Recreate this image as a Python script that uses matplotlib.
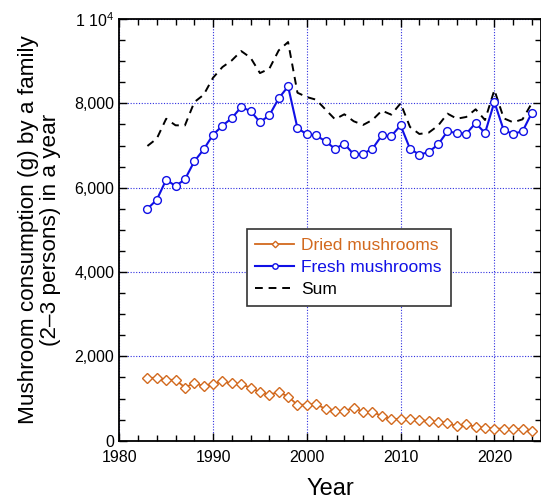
import matplotlib
matplotlib.use("Agg")
import matplotlib.pyplot as plt
from matplotlib.ticker import MultipleLocator, FuncFormatter

plt.rcParams["font.family"] = ["Liberation Sans", "DejaVu Sans"]
plt.rcParams["mathtext.fontset"] = "custom"
plt.rcParams["mathtext.rm"] = "Liberation Sans"

years = list(range(1983, 2025))

# household consumption, g per year
dried = [1492, 1492, 1445, 1445, 1262, 1366, 1294, 1350, 1405, 1358,
         1334, 1262, 1151, 1096, 1151, 1048, 850, 857, 865, 754,
         699, 699, 786, 683, 683, 588, 508, 524, 516, 492,
         461, 445, 421, 341, 397, 326, 310, 286, 286, 270,
         286, 230]
fresh = [5500, 5715, 6190, 6040, 6198, 6625, 6909, 7257, 7470, 7652,
         7913, 7818, 7557, 7715, 8119, 8403, 7415, 7265, 7241, 7099,
         6925, 7043, 6790, 6806, 6925, 7241, 7225, 7478, 6925, 6783,
         6846, 7028, 7336, 7296, 7281, 7534, 7296, 8032, 7360, 7281,
         7336, 7779]
total = [6990, 7165, 7636, 7480, 7478, 8030, 8205, 8609, 8862, 9020,
         9241, 9083, 8719, 8822, 9257, 9455, 8253, 8150, 8087, 7853,
         7624, 7742, 7576, 7489, 7608, 7829, 7733, 8002, 7441, 7275,
         7307, 7473, 7757, 7637, 7678, 7860, 7606, 8318, 7646, 7551,
         7622, 8009]

ORANGE = "#D2691E"
BLUE = "#1010E6"

fig = plt.figure(figsize=(5.41, 4.99), dpi=100)
ax = fig.add_axes([0.2205, 0.1168, 0.780, 0.845])

ax.plot(years, dried, color=ORANGE, lw=1.3, marker="D", ms=4.7,
        mfc="white", mec=ORANGE, mew=1.0, label="Dried mushrooms", zorder=4)
ax.plot(years, fresh, color=BLUE, lw=1.5, marker="o", ms=5.6,
        mfc="white", mec=BLUE, mew=1.0, label="Fresh mushrooms", zorder=4)
ax.plot(years, total, color="black", lw=1.4, ls=(0, (4, 3)), label="Sum",
        zorder=3)

ax.set_xlim(1980, 2025)
ax.set_ylim(0, 10000)
ax.xaxis.set_major_locator(MultipleLocator(10))
ax.xaxis.set_minor_locator(MultipleLocator(2))
ax.yaxis.set_major_locator(MultipleLocator(2000))
ax.yaxis.set_minor_locator(MultipleLocator(500))


def yfmt(v, pos):
    if v >= 10000:
        return r"1 10$^{4}$"
    return f"{int(v):,}"


ax.yaxis.set_major_formatter(FuncFormatter(yfmt))
ax.tick_params(which="both", direction="in", top=True, right=True,
               labelsize=11.5, width=1.0)
ax.tick_params(which="major", length=6)
ax.tick_params(which="minor", length=4)
ax.tick_params(axis="x", which="major", pad=7)
ax.grid(True, which="major", color="#3030E0", ls=(0, (1, 1.5)), lw=0.8)
for sp in ax.spines.values():
    sp.set_linewidth(1.3)

ax.set_xlabel("Year", fontsize=17, labelpad=9)
ax.set_ylabel("Mushroom consumption (g) by a family\n(2\u20133 persons) in a year",
              fontsize=16.2, labelpad=10, linespacing=1.05)

leg = ax.legend(loc="upper left", bbox_to_anchor=(0.302, 0.501),
                borderaxespad=0, fontsize=12.5, frameon=True, fancybox=False,
                edgecolor="#333333", framealpha=1, numpoints=1,
                markerscale=0.7, handlelength=2.2, handletextpad=0.45,
                labelspacing=0.4, borderpad=0.5)
leg.get_frame().set_linewidth(1.2)
for txt, col in zip(leg.get_texts(), [ORANGE, BLUE, "black"]):
    txt.set_color(col)

fig.savefig("out.png", dpi=100)
